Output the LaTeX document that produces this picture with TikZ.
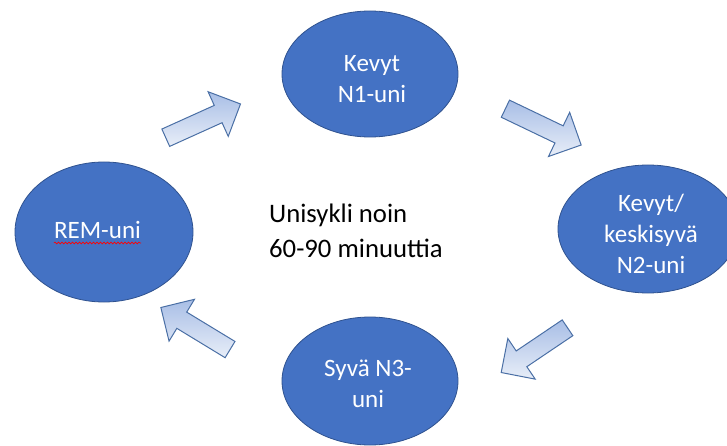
\documentclass[tikz,border=0pt]{standalone}
\usepackage{fontspec}
\setmainfont{Carlito}
\usetikzlibrary{shapes.geometric,shapes.arrows,decorations.pathmorphing}
\definecolor{ellfill}{HTML}{4472C4}
\definecolor{elldraw}{HTML}{2F528F}
\definecolor{arrdraw}{HTML}{4A6FA5}
\definecolor{arrtop}{HTML}{A8BEE6}
\definecolor{arrbot}{HTML}{E8EEF8}
\begin{document}
\begin{tikzpicture}[x=1pt,y=-1pt,
  phase/.style={ellipse,draw=elldraw,line width=0.8pt,fill=ellfill,inner sep=0pt},
  phasetext/.style={text=white,align=center,inner sep=0pt,font=\fontsize{25}{31}\selectfont},
  blockarrow/.style={single arrow,draw=arrdraw,line width=1pt,top color=arrtop,bottom color=arrbot,
    single arrow head extend=15pt,single arrow tip angle=90,inner xsep=0pt,inner ysep=9pt}]
\useasboundingbox (0,0) rectangle (727,446);
\clip (0,0) rectangle (727,446);
% ellipses
\node[phase,minimum width=176pt,minimum height=126pt] (n1) at (370,74) {};
\node[phase,minimum width=180pt,minimum height=128pt] (n2) at (648,229) {};
\node[phase,minimum width=176pt,minimum height=128pt] (n3) at (370,381) {};
\node[phase,minimum width=178pt,minimum height=140pt] (rem) at (104,232) {};
% texts
\node[phasetext] (t1) at (372,79) {Kevyt\\N1-uni};
\node[phasetext] (t2) at (651,234) {Kevyt/\\keskisyvä\\N2-uni};
\node[phasetext] (t3) at (368,384) {Syvä N3-\\uni};
\node[phasetext] (t4) at (97.5,230) {REM-uni};
\draw[red,line width=0.6pt,decorate,decoration={snake,segment length=3.5pt,amplitude=0.9pt}]
  (t4.south west |- 0,243) -- (t4.south east |- 0,243);
\node[anchor=west,align=left,inner sep=0pt,font=\fontsize{26.7}{35}\selectfont] (c) at (269,230.5)
  {Unisykli noin\\60-90 minuuttia};
% block arrows
\node[blockarrow,minimum height=82pt,rotate=24.3] (a1) at (198.8,122.8) {};
\node[blockarrow,minimum height=84pt,rotate=-25.6] (a2) at (539,124.8) {};
\node[blockarrow,minimum height=80pt,rotate=-146] (a3) at (538.3,347.5) {};
\node[blockarrow,minimum height=81pt,rotate=148.7] (a4) at (199.5,331) {};
\end{tikzpicture}
\end{document}
